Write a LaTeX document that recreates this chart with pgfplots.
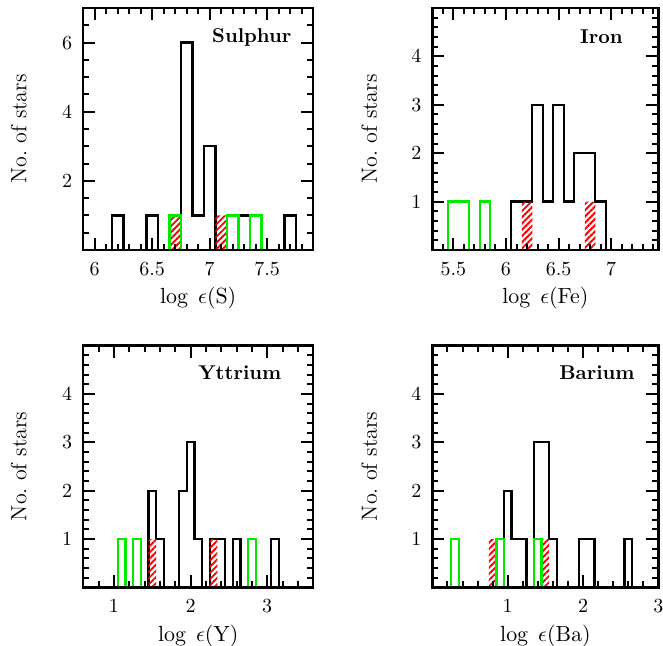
\documentclass[border=0pt]{standalone}
\usepackage{pgfplots}
\pgfplotsset{compat=1.18}
\usetikzlibrary{patterns.meta}

\definecolor{hgreen}{RGB}{0,235,0}

\pgfplotsset{
  panel/.style={
    scale only axis, axis on top,
    height=121pt, ymin=0,
    axis line style={line width=1.25pt},
    every tick/.style={line width=1pt, black},
    major tick length=6pt, minor tick length=3pt,
    tick align=inside,
    xticklabel style={font=\fontsize{10}{12}\selectfont, yshift=-2.5pt},
    yticklabel style={font=\fontsize{10}{12}\selectfont, xshift=-2pt},
    xlabel style={font=\fontsize{11}{13}\selectfont, at={(axis description cs:0.5,-0.2)}, anchor=center},
    ylabel style={font=\fontsize{11}{13}\selectfont, at={(axis description cs:-0.28,0.5)}, anchor=center},
    ylabel={No.\ of stars},
  },
  blk/.style={const plot mark left, line width=1.15pt, black, mark=none},
  grn/.style={const plot mark left, line width=1.15pt, hgreen, mark=none},
  hatch/.style={const plot mark left, draw=none, mark=none,
    pattern={Lines[angle=45,distance=2.2pt,line width=0.95pt]}, pattern color=red},
}

\begin{document}
\begin{tikzpicture}
\path[use as bounding box] (0,0) rectangle (331.5pt,323pt);

% Sulphur
\begin{axis}[panel, at={(41.6pt,198pt)}, anchor=south west, width=115pt,
  xmin=5.9, xmax=7.9, ymax=7,
  xtick={6,6.5,7,7.5}, xticklabels={6,6.5,7,7.5},
  minor xtick={5.9,6.0,...,7.9},
  ytick={2,4,6}, minor ytick={0.5,1,1.5,2.5,3,3.5,4.5,5,5.5,6.5},
  xlabel={$\log\;\epsilon(\mathrm{S})$}]
  \addplot[blk] coordinates {(5.9,0) (6.15,1) (6.25,0) (6.45,1) (6.55,0) (6.75,6) (6.85,1) (6.95,3) (7.05,0) (7.25,1) (7.35,0) (7.65,1) (7.75,0) (7.9,0)};
  \addplot[hatch] coordinates {(6.65,1) (6.75,0) (7.05,1) (7.15,0)} \closedcycle;
  \addplot[grn] coordinates {(5.9,0) (6.65,1) (6.75,0) (7.15,1) (7.25,0) (7.35,1) (7.45,0) (7.9,0)};
  \node[font=\bfseries] at (rel axis cs:0.733,0.88) {Sulphur};
\end{axis}

% Iron
\begin{axis}[panel, at={(216.2pt,198pt)}, anchor=south west, width=113pt,
  xmin=5.3, xmax=7.45, ymax=5,
  xtick={5.5,6,6.5,7}, xticklabels={5.5,6,6.5,7},
  minor xtick={5.3,5.4,...,7.45},
  ytick={1,2,3,4}, minor ytick={0.2,0.4,...,4.8},
  xlabel={$\log\;\epsilon(\mathrm{Fe})$}]
  \addplot[blk] coordinates {(5.3,0) (6.05,1) (6.25,3) (6.35,1) (6.45,3) (6.55,1) (6.65,2) (6.85,1) (6.95,0) (7.45,0)};
  \addplot[hatch] coordinates {(6.15,1) (6.25,0) (6.75,1) (6.85,0)} \closedcycle;
  \addplot[grn] coordinates {(5.3,0) (5.45,1) (5.65,0) (5.75,1) (5.85,0) (7.45,0)};
  \node[font=\bfseries] at (rel axis cs:0.748,0.88) {Iron};
\end{axis}

% Yttrium
\begin{axis}[panel, at={(41.6pt,29.25pt)}, anchor=south west, width=115pt,
  xmin=0.6, xmax=3.6, ymax=5,
  xtick={1,2,3}, minor xtick={0.6,0.8,...,3.6},
  ytick={1,2,3,4}, minor ytick={0.2,0.4,...,4.8},
  xlabel={$\log\;\epsilon(\mathrm{Y})$}]
  \addplot[blk] coordinates {(0.6,0) (1.45,2) (1.55,1) (1.65,0) (1.85,2) (1.95,3) (2.05,1) (2.15,0) (2.25,1) (2.45,0) (2.55,1) (2.65,0) (3.05,1) (3.15,0) (3.6,0)};
  \addplot[hatch] coordinates {(1.45,1) (1.55,0) (2.25,1) (2.35,0)} \closedcycle;
  \addplot[grn] coordinates {(0.6,0) (1.05,1) (1.15,0) (1.25,1) (1.35,0) (2.75,1) (2.85,0) (3.6,0)};
  \node[font=\bfseries] at (rel axis cs:0.681,0.886) {Yttrium};
\end{axis}

% Barium
\begin{axis}[panel, at={(216.2pt,29.25pt)}, anchor=south west, width=113pt,
  xmin=0, xmax=3, ymax=5,
  xtick={1,2,3}, minor xtick={0,0.2,...,3},
  ytick={1,2,3,4}, minor ytick={0.2,0.4,...,4.8},
  xlabel={$\log\;\epsilon(\mathrm{Ba})$}]
  \addplot[blk] coordinates {(0,0) (0.95,2) (1.05,1) (1.25,0) (1.35,3) (1.55,1) (1.65,0) (1.95,1) (2.15,0) (2.55,1) (2.65,0) (3,0)};
  \addplot[hatch] coordinates {(0.75,1) (0.85,0) (1.45,1) (1.55,0)} \closedcycle;
  \addplot[grn] coordinates {(0,0) (0.25,1) (0.35,0) (0.85,1) (0.95,0) (1.35,1) (1.45,0) (3,0)};
  \node[font=\bfseries] at (rel axis cs:0.728,0.886) {Barium};
\end{axis}
\end{tikzpicture}
\end{document}
